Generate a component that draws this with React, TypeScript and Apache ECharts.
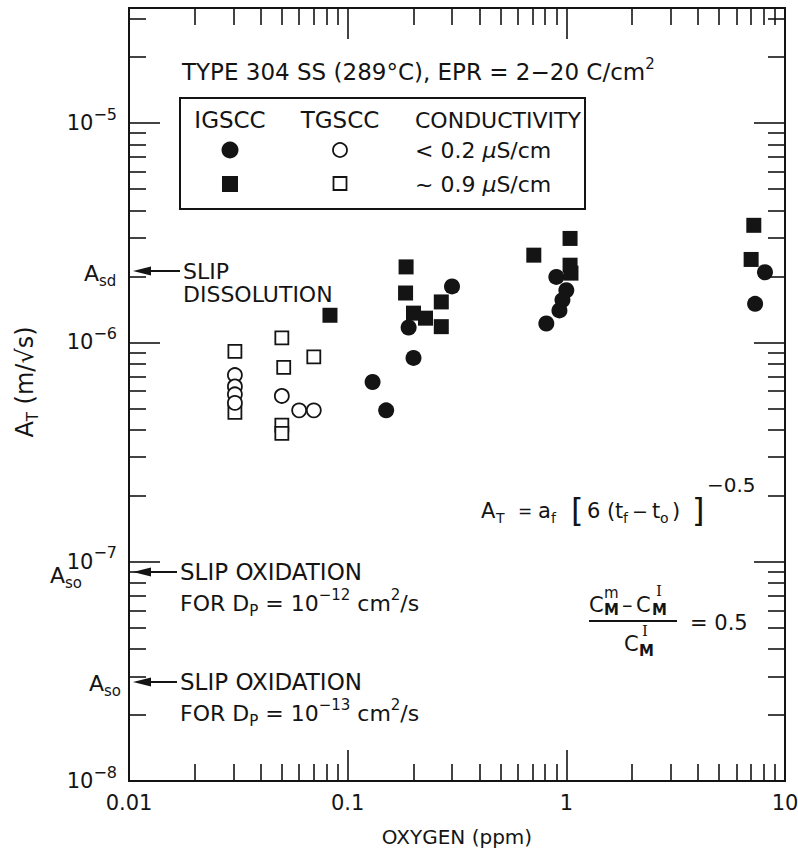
import React, { useEffect, useRef } from 'react';
import * as echarts from 'echarts';

// ---- axis ranges ----
const X_MIN = 0.01;
const X_MAX = 10;
const Y_MIN = 1e-8;
const Y_MAX = 3.35e-5;

// ---- data: [oxygen (ppm), A_T (m/sqrt(s))] ----
// IGSCC, conductivity < 0.2 uS/cm (filled circles)
const IGSCC_LOW: [number, number][] = [
  [0.13, 6.6e-7],
  [0.15, 4.9e-7],
  [0.2, 8.5e-7],
  [0.19, 1.17e-6],
  [0.3, 1.8e-6],
  [0.81, 1.22e-6],
  [0.93, 1.4e-6],
  [0.96, 1.56e-6],
  [1.0, 1.73e-6],
  [0.9, 1.99e-6],
  [7.3, 1.5e-6],
  [8.1, 2.09e-6],
];
// IGSCC, conductivity ~0.9 uS/cm (filled squares)
const IGSCC_HIGH: [number, number][] = [
  [0.083, 1.33e-6],
  [0.185, 2.21e-6],
  [0.184, 1.68e-6],
  [0.2, 1.36e-6],
  [0.227, 1.29e-6],
  [0.268, 1.53e-6],
  [0.268, 1.18e-6],
  [0.71, 2.5e-6],
  [1.04, 2.98e-6],
  [1.04, 2.25e-6],
  [1.05, 2.07e-6],
  [7.2, 3.42e-6],
  [7.0, 2.39e-6],
];
// TGSCC, conductivity < 0.2 uS/cm (open circles)
const TGSCC_LOW: [number, number][] = [
  [0.0305, 7.1e-7],
  [0.0305, 6.3e-7],
  [0.0305, 5.8e-7],
  [0.0305, 5.3e-7],
  [0.05, 5.7e-7],
  [0.06, 4.9e-7],
  [0.07, 4.9e-7],
];
// TGSCC, conductivity ~0.9 uS/cm (open squares)
const TGSCC_HIGH: [number, number][] = [
  [0.0305, 9.1e-7],
  [0.0305, 4.8e-7],
  [0.05, 1.05e-6],
  [0.051, 7.7e-7],
  [0.07, 8.6e-7],
  [0.05, 4.2e-7],
  [0.05, 3.85e-7],
];

const INK = '#141414';
const FONT = '"DejaVu Sans", "Liberation Sans", sans-serif';
const SERIF = '"DejaVu Serif", serif';
const FS = 22;

function makeRich(fs: number) {
  return {
    m: { fontSize: fs, fontFamily: FONT, color: INK, lineHeight: fs + 2 },
    it: { fontSize: fs, fontFamily: FONT, color: INK, fontStyle: 'italic', lineHeight: fs + 2 },
    sub: { fontSize: 15, fontFamily: FONT, color: INK, lineHeight: 15, padding: [15, 0, 0, 0] },
    sup: { fontSize: 15, fontFamily: FONT, color: INK, lineHeight: 15, padding: [0, 0, 17, 0] },
  };
}

function txt(x: number, y: number, text: string, align = 'left', fs = FS, extra: any = {}) {
  return {
    type: 'text',
    x,
    y,
    z: 10,
    style: {
      text,
      fill: INK,
      fontSize: fs,
      fontFamily: FONT,
      align,
      textAlign: align,
      verticalAlign: 'middle',
      textVerticalAlign: 'middle',
      rich: makeRich(fs),
      ...extra,
    },
  };
}

function line(x1: number, y1: number, x2: number, y2: number, w = 2) {
  return { type: 'line', z: 10, shape: { x1, y1, x2, y2 }, style: { stroke: INK, lineWidth: w } };
}

function arrow(xTip: number, y: number, xEnd: number) {
  return [
    line(xTip + 14, y, xEnd, y, 2),
    {
      type: 'polygon',
      z: 10,
      shape: { points: [[xTip, y], [xTip + 18, y - 4.5], [xTip + 18, y + 4.5]] },
      style: { fill: INK },
    },
  ];
}

function yLabel(v: number) {
  const e = Math.log10(v);
  const r = Math.round(e);
  if (Math.abs(e - r) > 1e-6) return '';
  return `{b|10}{e|${r < 0 ? '−' + -r : r}}`;
}

function xLabel(v: number) {
  const e = Math.log10(v);
  const r = Math.round(e);
  if (Math.abs(e - r) > 1e-6) return '';
  if (r === -2) return '0.01';
  if (r === -1) return '0.1';
  if (r === 0) return '1';
  return '10';
}

export default function App() {
  const ref = useRef<HTMLDivElement>(null);

  useEffect(() => {
    document.body.style.margin = '0';
    if (!ref.current) return;
    const chart = echarts.init(ref.current, null, { renderer: 'svg' });

    const tickLine = { color: INK, width: 1.6 };
    const baseX = {
      type: 'log',
      logBase: 10,
      min: X_MIN,
      max: X_MAX,
      axisLine: { show: false },
      splitLine: { show: false },
      axisTick: { show: true, inside: true, length: 31, lineStyle: tickLine },
      minorTick: { show: true, splitNumber: 9, length: 17, lineStyle: tickLine },
      minorSplitLine: { show: false },
    };
    const baseY = {
      type: 'log',
      logBase: 10,
      min: Y_MIN,
      max: Y_MAX,
      axisLine: { show: false },
      splitLine: { show: false },
      axisTick: { show: true, inside: true, length: 31, lineStyle: tickLine },
      minorTick: { show: true, splitNumber: 9, length: 17, lineStyle: tickLine },
      minorSplitLine: { show: false },
    };

    const small = { fontSize: 15, fontWeight: 'bold' };
    const EQ = 21;
    const eqY = 511;
    const eqSub = 518;

    const graphic: any[] = [
      // title inside plot
      txt(182, 72, '{m|TYPE 304 SS (289°C), EPR = 2−20 C/cm}{sup|2}', 'left', 23),
      // legend box
      {
        type: 'rect',
        z: 9,
        shape: { x: 180, y: 98, width: 405, height: 111 },
        style: { fill: '#fff', stroke: INK, lineWidth: 2 },
      },
      txt(230, 120, 'IGSCC', 'center', 23),
      txt(340, 120, 'TGSCC', 'center', 23),
      txt(415, 120, 'CONDUCTIVITY'),
      { type: 'circle', z: 11, shape: { cx: 230, cy: 150, r: 8.5 }, style: { fill: INK } },
      { type: 'circle', z: 11, shape: { cx: 340, cy: 150, r: 7 }, style: { fill: '#fff', stroke: INK, lineWidth: 1.8 } },
      { type: 'rect', z: 11, shape: { x: 222, y: 176, width: 16, height: 16 }, style: { fill: INK } },
      { type: 'rect', z: 11, shape: { x: 333.5, y: 177, width: 13, height: 13 }, style: { fill: '#fff', stroke: INK, lineWidth: 1.8 } },
      txt(415, 150, '{m|< 0.2 }{it|μ}{m|S/cm}'),
      txt(415, 184, '{m|~ 0.9 }{it|μ}{m|S/cm}'),

      // slip dissolution annotation
      txt(84, 273, '{m|A}{sub|sd}'),
      ...arrow(133, 271, 180),
      txt(183, 271, 'SLIP'),
      txt(183, 294, 'DISSOLUTION'),

      // slip oxidation 1e-12
      txt(50, 575, '{m|A}{sub|so}'),
      ...arrow(133, 572, 177),
      txt(180, 572, 'SLIP OXIDATION', 'left', 23),
      txt(180, 603, '{m|FOR D}{sub|P}{m| = 10}{sup|−12}{m| cm}{sup|2}{m|/s}'),

      // slip oxidation 1e-13
      txt(89, 683, '{m|A}{sub|so}'),
      ...arrow(133, 682, 177),
      txt(180, 682, 'SLIP OXIDATION', 'left', 23),
      txt(180, 713, '{m|FOR D}{sub|P}{m| = 10}{sup|−13}{m| cm}{sup|2}{m|/s}'),

      // A_T equation, piece by piece
      txt(481, eqY, 'A', 'left', EQ),
      txt(496, eqSub, 'T', 'left', 14),
      txt(518, eqY, '=', 'left', 17),
      txt(538, eqY, 'a', 'left', EQ),
      txt(551, eqSub, 'f', 'left', 14),
      txt(571, eqY - 1, '[', 'left', 32),
      txt(587, eqY, '6', 'left', EQ),
      txt(607, eqY, '(', 'left', EQ),
      txt(615, eqY, 't', 'left', EQ),
      txt(623, eqSub, 'f', 'left', 14),
      txt(632, eqY, '−', 'left', 19),
      txt(652, eqY, 't', 'left', EQ),
      txt(660, eqSub, 'o', 'left', 14),
      txt(672, eqY, ')', 'left', EQ),
      txt(692, eqY - 1, ']', 'left', 32),
      txt(707, 485, '−0.5', 'left', 20),

      // fraction
      txt(589, 605, 'C', 'left', 21),
      txt(604, 593, 'm', 'left', 15),
      txt(604, 610, 'M', 'left', 15, small),
      txt(622, 605, '–', 'left', 21),
      txt(636, 605, 'C', 'left', 21),
      txt(656, 591, 'I', 'left', 15, { fontFamily: SERIF }),
      txt(652, 610, 'M', 'left', 15, small),
      line(589, 621, 677, 621, 2),
      txt(624, 644, 'C', 'left', 21),
      txt(642, 631, 'I', 'left', 15, { fontFamily: SERIF }),
      txt(639, 651, 'M', 'left', 15, small),
      txt(690, 623, '= 0.5', 'left', 21),

      // y-axis title
      {
        type: 'text',
        x: 25,
        y: 382,
        rotation: Math.PI / 2,
        z: 10,
        style: {
          text: '{m|A}{sub|T}{m| (m/√s)}',
          fill: INK,
          fontSize: 24,
          fontFamily: FONT,
          align: 'center',
          textAlign: 'center',
          verticalAlign: 'middle',
          textVerticalAlign: 'middle',
          rich: makeRich(24),
        },
      },
    ];

    const option: any = {
      animation: false,
      backgroundColor: '#ffffff',
      grid: {
        left: 129,
        right: 13,
        top: 8,
        bottom: 76,
        show: true,
        borderColor: INK,
        borderWidth: 2,
        containLabel: false,
        outerBoundsMode: 'none',
      },
      xAxis: [
        {
          ...baseX,
          position: 'bottom',
          name: 'OXYGEN (ppm)',
          nameLocation: 'middle',
          nameGap: 46,
          nameTextStyle: { fontSize: 20, fontFamily: FONT, color: INK },
          axisLabel: {
            show: true,
            margin: 11,
            fontSize: 21,
            fontFamily: FONT,
            color: INK,
            formatter: xLabel,
            showMinLabel: true,
            showMaxLabel: true,
          },
        },
        {
          ...baseX,
          position: 'top',
          axisLabel: { show: false },
        },
      ],
      yAxis: [
        {
          ...baseY,
          position: 'left',
          axisLabel: {
            show: true,
            margin: 12,
            formatter: yLabel,
            showMinLabel: true,
            showMaxLabel: false,
            rich: {
              b: { fontSize: 21, fontFamily: FONT, color: INK, lineHeight: 24 },
              e: { fontSize: 16, fontFamily: FONT, color: INK, lineHeight: 16, padding: [0, 0, 18, 0] },
            },
          },
        },
        {
          ...baseY,
          position: 'right',
          axisLabel: { show: false },
        },
      ],
      graphic,
      series: [
        {
          name: 'TGSCC ~0.9',
          type: 'scatter',
          data: TGSCC_HIGH,
          symbol: 'rect',
          symbolSize: 13,
          itemStyle: { color: '#fff', borderColor: INK, borderWidth: 1.8, opacity: 1 },
          z: 2,
        },
        {
          name: 'TGSCC <0.2',
          type: 'scatter',
          data: TGSCC_LOW,
          symbol: 'circle',
          symbolSize: 14,
          itemStyle: { color: '#fff', borderColor: INK, borderWidth: 1.8, opacity: 1 },
          z: 3,
        },
        {
          name: 'IGSCC ~0.9',
          type: 'scatter',
          data: IGSCC_HIGH,
          symbol: 'rect',
          symbolSize: 15,
          itemStyle: { color: INK, opacity: 1 },
          z: 4,
        },
        {
          name: 'IGSCC <0.2',
          type: 'scatter',
          data: IGSCC_LOW,
          symbol: 'circle',
          symbolSize: 16,
          itemStyle: { color: INK, opacity: 1 },
          z: 5,
        },
      ],
    };

    chart.setOption(option);
    return () => chart.dispose();
  }, []);

  return <div ref={ref} style={{ width: 798, height: 857, background: '#fff' }} />;
}
